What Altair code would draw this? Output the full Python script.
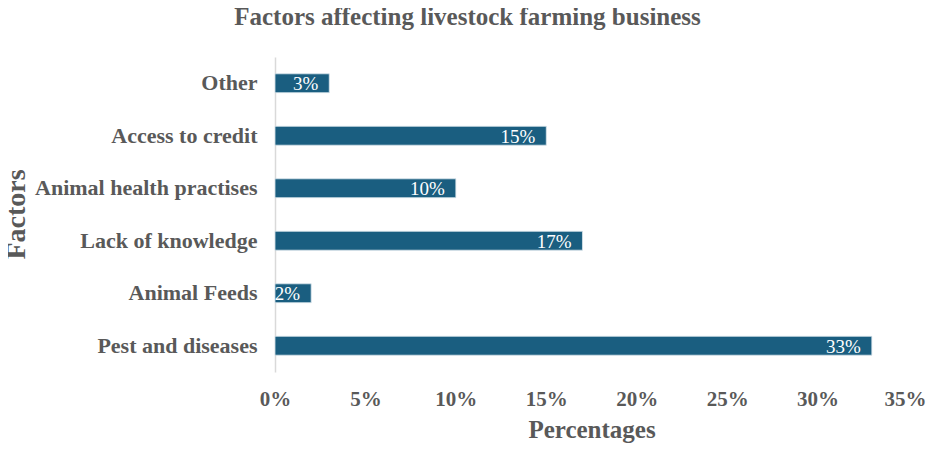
import altair as alt
import pandas as pd

factors = ["Other", "Access to credit", "Animal health practises", "Lack of knowledge", "Animal Feeds", "Pest and diseases"]
percent = [3, 15, 10, 17, 2, 33]
tick_values = [0, 5, 10, 15, 20, 25, 30, 35]

df = pd.DataFrame({"Factor": factors, "Pct": percent})
df["Label"] = df["Pct"].astype(str) + "%"

FONT = "Liberation Serif"
GRAY = "#595959"
BLUE = "#1a5e80"

x = alt.X("Pct:Q", scale=alt.Scale(domain=[0, 35], nice=False),
          axis=alt.Axis(values=tick_values, labelExpr="datum.value + '%'", title="Percentages",
                        grid=False, domain=False, ticks=False, labelPadding=16, labelFlush=False,
                        labelOffset={"condition": {"test": "datum.value == 35", "value": -3}, "value": 0},
                        labelFont=FONT, labelFontSize=21, labelFontWeight="bold", labelColor=GRAY,
                        titleFont=FONT, titleFontSize=25, titleFontWeight="bold", titleColor=GRAY,
                        titlePadding=8))
y = alt.Y("Factor:N", sort=factors,
          scale=alt.Scale(paddingInner=0.64, paddingOuter=0.32),
          axis=alt.Axis(title="Factors", ticks=False, grid=False, domainColor="#d9d9d9", domainWidth=1.5,
                        labelPadding=18, labelLimit=300, labelFont=FONT, labelFontSize=22, labelFontWeight="bold",
                        labelColor=GRAY, titleFont=FONT, titleFontSize=28, titleFontWeight="bold",
                        titleColor=GRAY, titleX=-259, titleY=157, titleAlign="center",
                        titleBaseline="middle", titleAngle=-90))

bars = alt.Chart(df).mark_bar(color=BLUE, stroke="#dbe6ec", strokeWidth=0.8).encode(x=x, y=y)
text = alt.Chart(df).mark_text(align="right", baseline="middle", dx=-11, dy=1, color="white",
                               font=FONT, fontSize=19).encode(x="Pct:Q", y=alt.Y("Factor:N", sort=factors),
                                                              text="Label:N")

chart = (bars + text).properties(
    width=633, height=315,
    autosize=alt.AutoSizeParams(type="none"),
    padding={"left": 267, "top": 49, "right": 19, "bottom": 72},
    title=alt.TitleParams("Factors affecting livestock farming business", font=FONT, fontSize=25,
                          fontWeight="bold", color=GRAY, anchor="middle", dx=-124, offset=27),
).configure_view(stroke=None)

chart.save("out.html", embed_options={"renderer": "svg", "actions": False})
